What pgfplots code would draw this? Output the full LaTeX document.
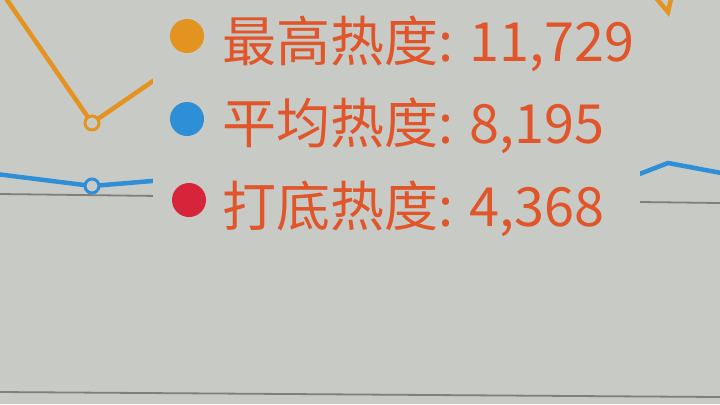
\documentclass[border=0pt]{standalone}
\usepackage{pgfplots}
\pgfplotsset{compat=1.18}
\usepackage{fontspec}
\setmainfont{Noto Sans CJK SC}
\definecolor{bgc}{HTML}{C8CAC6}
\definecolor{txtc}{HTML}{E0552A}
\definecolor{orc}{HTML}{E39420}
\definecolor{blc}{HTML}{2F8FD6}
\definecolor{rdc}{HTML}{D8243A}
\definecolor{grc}{HTML}{7F807D}
\begin{document}
\begin{tikzpicture}
\begin{axis}[
  width=720bp, height=404bp, scale only axis,
  xmin=0, xmax=720, ymin=0, ymax=404, y dir=reverse,
  axis lines=none, ticks=none, clip=true,
  axis background/.style={fill=bgc},
]
% grid lines
\addplot[grc, line width=1.8bp] coordinates {(0,194) (720,203)};
\addplot[grc, line width=1.8bp] coordinates {(0,392) (720,397)};
% orange: max heat
\addplot[orc, line width=4.5bp] coordinates {(-4,-16) (92,123) (188,57) (284,0) (380,-40) (476,-20) (572,-100) (668,12) (764,-400)};
% blue: average heat
\addplot[blc, line width=4.5bp] coordinates {(-4,174) (92,186) (188,178) (284,175) (380,172) (476,180) (572,200) (668,163) (764,181)};
% hovered markers
\addplot[orc, only marks, mark=*, mark size=7bp, line width=3bp, mark options={fill=bgc}] coordinates {(92,123)};
\addplot[blc, only marks, mark=*, mark size=7bp, line width=3bp, mark options={fill=bgc}] coordinates {(92,186)};
% tooltip box
\fill[bgc] (axis cs:153,-10) rectangle (axis cs:640,236);
\node[circle, fill=orc, minimum size=34bp, inner sep=0pt] at (axis cs:187,36) {};
\node[circle, fill=blc, minimum size=34bp, inner sep=0pt] at (axis cs:187,119) {};
\node[circle, fill=rdc, minimum size=34bp, inner sep=0pt] at (axis cs:189,200) {};
\node[anchor=base west, inner sep=0pt, text=txtc, font=\fontsize{54bp}{54bp}\selectfont] at (axis cs:222,61) {最高热度: 11,729};
\node[anchor=base west, inner sep=0pt, text=txtc, font=\fontsize{54bp}{54bp}\selectfont] at (axis cs:222,143) {平均热度: 8,195};
\node[anchor=base west, inner sep=0pt, text=txtc, font=\fontsize{54bp}{54bp}\selectfont] at (axis cs:222,226) {打底热度: 4,368};
\end{axis}
\end{tikzpicture}
\end{document}
